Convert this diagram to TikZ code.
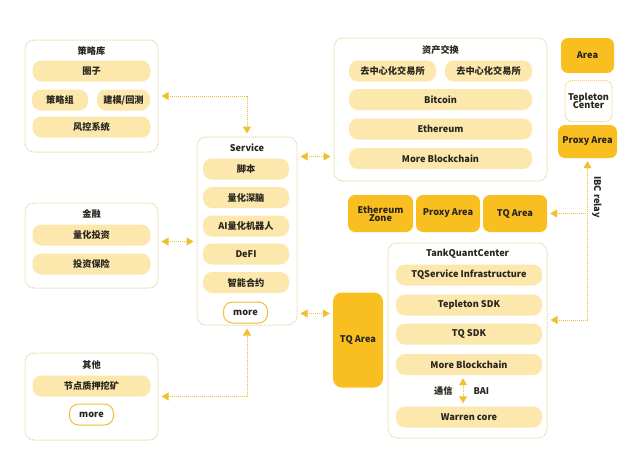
\documentclass[tikz,border=0pt]{standalone}
\usepackage{fontspec}
\setmainfont{Noto Sans CJK SC}
\usepackage{tikz}
\usetikzlibrary{arrows.meta}

\definecolor{pillc}{RGB}{252,231,172}
\definecolor{hotc}{RGB}{249,190,32}
\definecolor{rimc}{RGB}{226,212,160}
\definecolor{linkc}{RGB}{240,192,50}
\definecolor{txtc}{RGB}{40,36,30}

\begin{document}
\begin{tikzpicture}[
	  x=1pt, y=-1pt,
	  every node/.style = {align=center, text=txtc, inner sep=1pt,
	    font=\fontsize{9.2pt}{10.2pt}\selectfont\bfseries},
	  grp/.style = {draw=rimc, densely dotted, line width=1pt, rounded corners=9pt, fill=white},
	  pill/.style = {fill=pillc, rounded corners=9pt, minimum height=21pt},
	  hot/.style = {fill=hotc, rounded corners=7pt},
	  morebtn/.style = {draw=linkc, line width=1pt, fill=white, rounded corners=9pt,
	    minimum width=44pt, minimum height=21pt},
	  link/.style = {draw=linkc, densely dotted, line width=1pt,
	    shorten <=3pt, shorten >=3pt, {Triangle[length=7pt,width=8pt]}-{Triangle[length=7pt,width=8pt]}},
	  onelink/.style = {draw=linkc, densely dotted, line width=1pt,
	    shorten >=3pt, -{Triangle[length=7pt,width=8pt]}}
	]
	\useasboundingbox (0,0) rectangle (640,464);

	% left column
	\node[grp, minimum width=133pt, minimum height=112pt] (lib) at (91.5,96) {};
	\node (libT) at (91.5,51) {策略库};
	\node[pill, minimum width=118pt] (quanzi) at (91.5,71) {圈子};
	\node[pill, minimum width=56pt] (clz) at (60,100) {策略组};
	\node[pill, minimum width=53pt] (jianmo) at (123.5,100) {建模/回测};
	\node[pill, minimum width=118pt] (fengkong) at (91.5,127) {风控系统};

	\node[grp, minimum width=133pt, minimum height=85pt] (fin) at (91.5,245.5) {};
	\node (finT) at (91.5,214) {金融};
	\node[pill, minimum width=118pt] (lhtz) at (91.5,235) {量化投资};
	\node[pill, minimum width=118pt] (tzbx) at (91.5,264) {投资保险};

	\node[grp, minimum width=133pt, minimum height=87pt] (oth) at (91.5,396.5) {};
	\node (othT) at (91.5,365) {其他};
	\node[pill, minimum width=118pt] (jdzy) at (91.5,386) {节点质押挖矿};
	\node[morebtn] (othMore) at (91.5,414.5) {more};

	% service
	\node[grp, minimum width=100pt, minimum height=188pt] (ser) at (247,231) {};
	\node (serT) at (247,148) {Service};
	\node[pill, minimum width=86pt] (jb) at (246,169) {脚本};
	\node[pill, minimum width=86pt] (lhsn) at (246,197.5) {量化深脑};
	\node[pill, minimum width=86pt] (robot) at (246,226) {AI量化机器人};
	\node[pill, minimum width=86pt] (defi) at (246,254) {DeFI};
	\node[pill, minimum width=86pt] (znhy) at (246,282.5) {智能合约};
	\node[morebtn] (serMore) at (245.5,312.5) {more};

	% asset exchange
	\node[grp, minimum width=213pt, minimum height=143pt] (ex) at (440.5,109.5) {};
	\node (exT) at (440.5,50) {资产交换};
	\node[pill, minimum width=87pt] (dexA) at (392.5,71) {去中心化交易所};
	\node[pill, minimum width=87pt] (dexB) at (488.5,71) {去中心化交易所};
	\node[pill, minimum width=183pt] (btc) at (440.5,99.5) {Bitcoin};
	\node[pill, minimum width=183pt] (eth) at (440.5,129) {Ethereum};
	\node[pill, minimum width=183pt] (exMore) at (440.5,158.5) {More Blockchain};

	% right column
	\node[hot, minimum width=53pt, minimum height=35pt] (area) at (587.5,55.5) {Area};
	\node[grp, draw=linkc!70, rounded corners=7pt, minimum width=47pt, minimum height=41pt] (tplC) at (588.5,101) {};
	\node (tplT) at (588.5,101) {Tepleton\\[-2pt]Center};
	\node[hot, minimum width=59pt, minimum height=33pt] (proxyR) at (587.5,141.5) {Proxy Area};

	% zones
	\node[hot, minimum width=65pt, minimum height=37pt] (ethZ) at (380.5,213.5) {Ethereum\\[-2pt]Zone};
	\node[hot, minimum width=64pt, minimum height=37pt] (proxyM) at (448,213.5) {Proxy Area};
	\node[hot, minimum width=64pt, minimum height=37pt] (tqZ) at (515,213.5) {TQ Area};
	\node[hot, rounded corners=9pt, minimum width=50pt, minimum height=95pt] (tqBig) at (358,340) {TQ Area};

	% TankQuantCenter
	\node[grp, minimum width=159pt, minimum height=195pt] (tqc) at (467.5,340.5) {};
	\node (tqcT) at (467.5,254) {TankQuantCenter};
	\node[pill, minimum width=146pt] (tqs) at (469,275) {TQService Infrastructure};
	\node[pill, minimum width=146pt] (tsdk) at (469,305) {Tepleton SDK};
	\node[pill, minimum width=146pt] (tq) at (469,334) {TQ SDK};
	\node[pill, minimum width=146pt] (tqcMore) at (469,364.5) {More Blockchain};
	\node[pill, minimum width=146pt] (warren) at (469,417) {Warren core};
	\draw[link] ([xshift=-6pt]tqcMore.south) -- node[left=9pt] {通信} node[right=9pt] {BAI} ([xshift=-6pt]warren.north);

	% connectors
	\draw[link] (lib.east) -| (ser.north);
	\draw[link] ([shift={(0,-4)}]fin.east) -- ([shift={(0,-4)}]fin.east -| ser.west);
	\draw[link] (oth.east) -| (ser.south);
	\draw[link] ([shift={(0,20)}]ser.north east) -- ([shift={(0,20)}]ser.north east -| ex.west);
	\draw[link] ([shift={(0,-12)}]ser.south east) -- ([shift={(0,-12)}]ser.south east -| tqBig.west);

	\coordinate (relay) at (587.5,320);
	\draw[onelink] (relay) -- node[right=3pt, pos=0.76, rotate=-90, anchor=south] {IBC relay} (proxyR.south);
	\draw[onelink] (relay |- tqZ.east) -- (tqZ.east);
	\draw[onelink] (relay) -- (relay -| tqc.east);
\end{tikzpicture}
\end{document}
